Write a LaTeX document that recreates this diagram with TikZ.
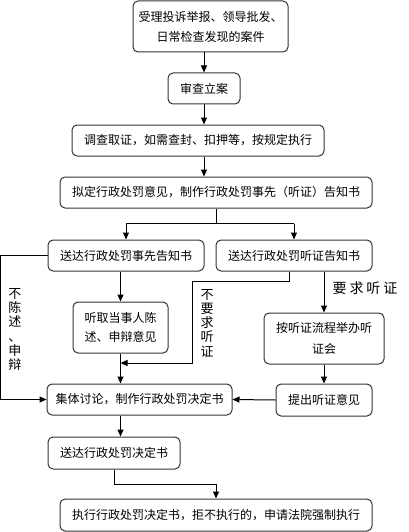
\documentclass[tikz,border=0pt]{standalone}
\usepackage{fontspec}
\setmainfont{Noto Sans CJK SC}
\usetikzlibrary{arrows.meta,calc}
\begin{document}
\begin{tikzpicture}[x=1pt,y=-1pt,
  box/.style={draw=black!80, rounded corners=5pt, line width=1pt, inner sep=0pt, align=center,
    font=\fontsize{12pt}{20pt}\selectfont},
  arr/.style={-{Triangle[width=6pt,length=7pt]}, line width=1pt},
  ln/.style={line width=1pt},
  vlab/.style={inner sep=0pt, align=center, font=\fontsize{13pt}{14.2pt}\selectfont}]
\useasboundingbox (0,0) rectangle (409,532);

\node[box, minimum width=155pt, minimum height=51pt] (b1) at (210.5,26.5) {受理投诉举报、领导批发、\\日常检查发现的案件};
\node[box, minimum width=72pt, minimum height=31pt] (b2) at (204,88.5) {审查立案};
\node[box, minimum width=252pt, minimum height=31pt] (b3) at (198,140.5) {调查取证，如需查封、扣押等，按规定执行};
\node[box, minimum width=312pt, minimum height=31pt] (b4) at (216,192.5) {拟定行政处罚意见，制作行政处罚事先（听证）告知书};
\node[box, minimum width=156pt, minimum height=31pt] (b5) at (126,255.5) {送达行政处罚事先告知书};
\node[box, minimum width=156pt, minimum height=31pt] (b6) at (294,255.5) {送达行政处罚听证告知书};
\node[box, minimum width=95pt, minimum height=51pt, font=\fontsize{12pt}{19pt}\selectfont] (b7) at (120.5,327.5) {听取当事人陈\\述、申辩意见};
\node[box, minimum width=120pt, minimum height=51pt, font=\fontsize{12pt}{21pt}\selectfont] (b8) at (324,338.5) {按听证流程举办听\\证会};
\node[box, minimum width=185pt, minimum height=31pt] (b9) at (139.5,399.5) {集体讨论，制作行政处罚决定书};
\node[box, minimum width=96pt, minimum height=32pt] (b10) at (324,400) {提出听证意见};
\node[box, minimum width=132pt, minimum height=32pt] (b11) at (114,453) {送达行政处罚决定书};
\node[box, minimum width=312pt, minimum height=32pt] (b12) at (216,515) {执行行政处罚决定书，拒不执行的，申请法院强制执行};

% labels
\node[vlab] (l1) at (15,329.5) {不\\陈\\述\\、\\申\\辩};
\node[vlab] (l2) at (207,323) {不\\要\\求\\听\\证};
\node[inner sep=0pt, font=\fontsize{14pt}{14pt}\selectfont] (l3) at (365,288) {要\hspace{3pt}求\hspace{3pt}听\hspace{3pt}证};

% connectors
\draw[arr] (b2.north |- b1.south) -- (b2.north);
\draw[arr] (b2.south) -- (b2.south |- b3.north);
\draw[arr] (b2.south |- b3.south) -- (b2.south |- b4.north);
\draw[ln] (b4.south) -- ++(0,15) coordinate (sp);
\draw[ln] (sp -| b5) -- (sp -| b6);
\draw[arr] (sp -| b5) -- (b5.north);
\draw[arr] (sp -| b6) -- (b6.north);

\draw[arr] (b5.west) -- ++(-47,0) |- (b9.west);
\draw[arr] (b7.north |- b5.south) -- (b7.north);
\draw[arr] (b7.south) -- (b7.south |- b9.north);

\coordinate (nh) at (192,363);
\draw[arr] ($(b6.south)+(-5,0)$) -- ++(0,10) -| (nh) -- (nh -| b7.south);

\draw[arr] (b8.north |- b6.south) -- (b8.north);
\draw[arr] (b8.south) -- (b10.north);
\draw[arr] (b10.west) -- (b9.east);
\draw[arr] (b7.south |- b9.south) -- (b7.south |- b11.north);
\draw[arr] (b11.south) -- ++(0,15) -| (b12.north);
\end{tikzpicture}
\end{document}
